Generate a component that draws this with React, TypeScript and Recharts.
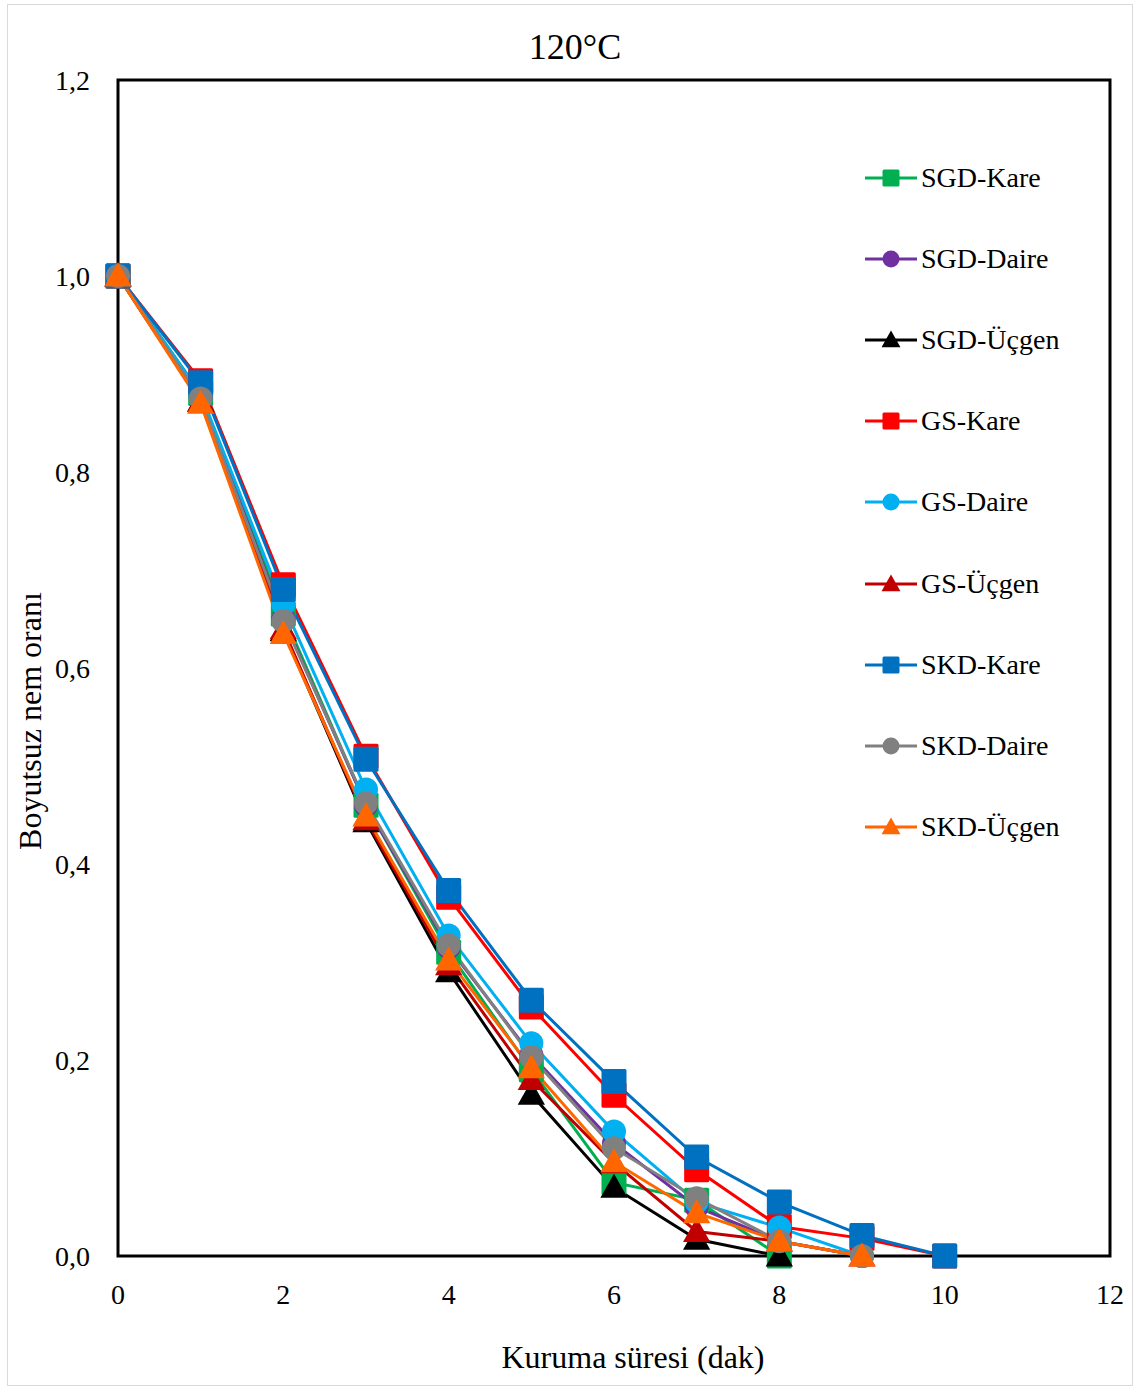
import React from 'react';
import { LineChart, Line, XAxis, YAxis, ReferenceArea } from 'recharts';

// Kuruma süresi (dak)
const times = [0, 1, 2, 3, 4, 5, 6, 7, 8, 9, 10];
const xTicks = [0, 2, 4, 6, 8, 10, 12];
const yTicks = [0, 0.2, 0.4, 0.6, 0.8, 1.0, 1.2];

const sgdKare = [1, 0.88, 0.655, 0.46, 0.31, 0.19, 0.075, 0.057, 0, null, null];
const sgdDaire = [1, 0.877, 0.65, 0.46, 0.315, 0.205, 0.115, 0.05, 0.015, 0, null];
const sgdUcgen = [1, 0.872, 0.638, 0.443, 0.29, 0.165, 0.07, 0.017, 0, null, null];
const gsKare = [1, 0.893, 0.685, 0.51, 0.366, 0.254, 0.164, 0.088, 0.03, 0.018, 0];
const gsDaire = [1, 0.88, 0.665, 0.476, 0.327, 0.217, 0.127, 0.055, 0.029, 0, null];
const gsUcgen = [1, 0.872, 0.64, 0.445, 0.297, 0.18, 0.095, 0.025, 0.015, 0, null];
const skdKare = [1, 0.891, 0.68, 0.507, 0.373, 0.261, 0.178, 0.101, 0.055, 0.021, 0];
const skdDaire = [1, 0.875, 0.648, 0.462, 0.317, 0.203, 0.11, 0.059, 0.015, 0, null];
const skdUcgen = [1, 0.87, 0.635, 0.449, 0.302, 0.192, 0.096, 0.044, 0.015, 0, null];

type Shape = 'square' | 'circle' | 'triangle';

const series: { key: string; name: string; color: string; shape: Shape; values: (number | null)[] }[] = [
  { key: 'sgdKare', name: 'SGD-Kare', color: '#00b050', shape: 'square', values: sgdKare },
  { key: 'sgdDaire', name: 'SGD-Daire', color: '#7030a0', shape: 'circle', values: sgdDaire },
  { key: 'sgdUcgen', name: 'SGD-Üçgen', color: '#000000', shape: 'triangle', values: sgdUcgen },
  { key: 'gsKare', name: 'GS-Kare', color: '#ff0000', shape: 'square', values: gsKare },
  { key: 'gsDaire', name: 'GS-Daire', color: '#00b0f0', shape: 'circle', values: gsDaire },
  { key: 'gsUcgen', name: 'GS-Üçgen', color: '#c00000', shape: 'triangle', values: gsUcgen },
  { key: 'skdKare', name: 'SKD-Kare', color: '#0070c0', shape: 'square', values: skdKare },
  { key: 'skdDaire', name: 'SKD-Daire', color: '#808080', shape: 'circle', values: skdDaire },
  { key: 'skdUcgen', name: 'SKD-Üçgen', color: '#ff6600', shape: 'triangle', values: skdUcgen },
];

const data = times.map((t, i) => {
  const row: Record<string, number | null> = { t };
  series.forEach((s) => {
    row[s.key] = s.values[i];
  });
  return row;
});

const FONT = '"Liberation Serif", "Times New Roman", serif';

function Marker({ shape, color, cx, cy, size }: { shape: Shape; color: string; cx: number; cy: number; size: number }) {
  const h = size / 2;
  if (shape === 'square') {
    return <rect x={cx - h} y={cy - h} width={size} height={size} rx={1.5} fill={color} />;
  }
  if (shape === 'circle') {
    return <circle cx={cx} cy={cy} r={h} fill={color} />;
  }
  return (
    <polygon
      points={`${cx},${cy - h * 1.05} ${cx - h * 1.05},${cy + h * 0.8} ${cx + h * 1.05},${cy + h * 0.8}`}
      fill={color}
    />
  );
}

const makeDot = (shape: Shape, color: string, name: string) => (props: any) => {
  const { cx, cy, index, value } = props;
  if (value == null || cx == null || cy == null) return <g key={`${name}-${index}`} />;
  return (
    <g key={`${name}-${index}`}>
      <Marker shape={shape} color={color} cx={cx} cy={cy} size={shape === 'circle' ? 24 : shape === 'square' ? 25 : 26} />
    </g>
  );
};

const fmt = (v: number) => v.toFixed(1).replace('.', ',');

export default function App() {
  return (
    <div style={{ position: 'absolute', left: 0, top: 0, width: 1139, height: 1388, background: '#fff', fontFamily: FONT }}>
      <div style={{ position: 'absolute', left: 7, top: 4, width: 1124, height: 1380, border: '1px solid #d9d9d9' }} />
      <LineChart width={1139} height={1388} data={data} margin={{ top: 80, right: 29, bottom: 72, left: 38 }}>
        <XAxis
          dataKey="t"
          type="number"
          domain={[0, 12]}
          ticks={xTicks}
          axisLine={false}
          tickLine={false}
          tickSize={0}
          tickMargin={28}
          height={60}
          tick={{ fontSize: 28, fill: '#000', fontFamily: FONT }}
        />
        <YAxis
          type="number"
          domain={[0, 1.2]}
          ticks={yTicks}
          axisLine={false}
          tickLine={false}
          tickSize={0}
          tickMargin={28}
          width={80}
          tickFormatter={fmt}
          tick={{ fontSize: 28, fill: '#000', fontFamily: FONT }}
        />
        <ReferenceArea x1={0} x2={12} y1={0} y2={1.2} fill="none" stroke="#000" strokeWidth={3} />
        {series.map((s) => (
          <Line
            key={s.key}
            dataKey={s.key}
            name={s.name}
            type="linear"
            stroke={s.color}
            strokeWidth={3}
            dot={makeDot(s.shape, s.color, s.key)}
            activeDot={false}
            connectNulls={false}
            isAnimationActive={false}
          />
        ))}
      </LineChart>
      <div style={{ position: 'absolute', left: 863, top: 137 }}>
        {series.map((s) => (
          <div key={s.key} style={{ display: 'flex', alignItems: 'center', height: 81.2 }}>
            <svg width={56} height={24} style={{ display: 'block' }}>
              <line x1={2} y1={12} x2={54} y2={12} stroke={s.color} strokeWidth={3} />
              <Marker shape={s.shape} color={s.color} cx={28} cy={12} size={s.shape === 'triangle' ? 18 : 17} />
            </svg>
            <span style={{ fontSize: 28, color: '#000', marginLeft: 2, lineHeight: '28px', whiteSpace: 'nowrap' }}>{s.name}</span>
          </div>
        ))}
      </div>
      <div style={{ position: 'absolute', left: 0, width: 1150, top: 26, textAlign: 'center', fontSize: 36, lineHeight: '42px' }}>120°C</div>
      <div style={{ position: 'absolute', left: 0, width: 1266, top: 1339, textAlign: 'center', fontSize: 32, lineHeight: '36px' }}>
        Kuruma süresi (dak)
      </div>
      <div
        style={{
          position: 'absolute',
          left: 30 - 200,
          top: 721 - 18,
          width: 400,
          height: 36,
          textAlign: 'center',
          fontSize: 32,
          lineHeight: '36px',
          transform: 'rotate(-90deg)',
        }}
      >
        Boyutsuz nem oranı
      </div>
    </div>
  );
}
